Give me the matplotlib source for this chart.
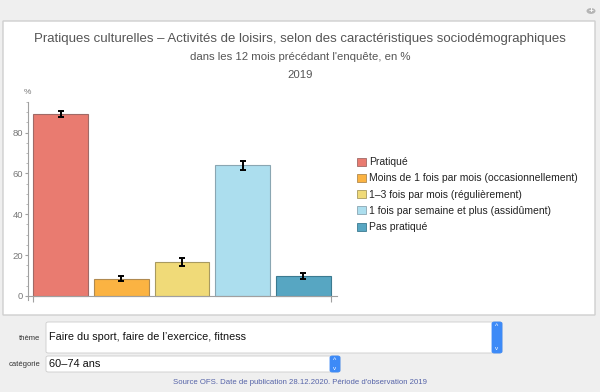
"""
Pratiques culturelles: bar chart with error bars inside a Manipulate-like panel.
"""

import matplotlib.pyplot as plt
import numpy as np
from matplotlib.patches import Patch, FancyBboxPatch, Circle

plt.rcParams['font.family'] = ['Liberation Sans', 'DejaVu Sans']

W, H = 600, 392

categories = [
    'Pratiqué',
    'Moins de 1 fois par mois (occasionnellement)',
    '1–3 fois par mois (régulièrement)',
    '1 fois par semaine et plus (assidûment)',
    'Pas pratiqué',
]
values = [89.2, 8.5, 16.6, 64.0, 9.8]
errors = [1.4, 1.4, 1.8, 2.3, 1.5]
colors = ['#e97b70', '#fbb342', '#f0da78', '#acdeee', '#57a6c2']
edges = ['#a06a66', '#b08a50', '#a89a60', '#8aa6b2', '#3b7a90']

title = 'Pratiques culturelles – Activités de loisirs, selon des caractéristiques sociodémographiques'
subtitle = "dans les 12 mois précédant l'enquête, en %"
year = '2019'
theme = 'Faire du sport, faire de l’exercice, fitness'
category = '60–74 ans'
source = "Source OFS. Date de publication 28.12.2020. Période d'observation 2019"


def fx(px):
    return px / W


def fy(py):
    return 1 - py / H


def box(fig, x0, y0, x1, y1, fc, ec, lw=0.8, r=0.0, z=-2):
    p = FancyBboxPatch((fx(x0), fy(y1)), fx(x1) - fx(x0), fy(y0) - fy(y1),
                       boxstyle=f'round,pad=0,rounding_size={r}',
                       transform=fig.transFigure, facecolor=fc, edgecolor=ec,
                       linewidth=lw, zorder=z)
    fig.patches.append(p)


fig = plt.figure(figsize=(W / 100, H / 100), dpi=100, facecolor='#efefef')

# white panel
box(fig, 3, 21, 595, 315, 'white', '#cfcfcf', lw=1.0)
fig.patches.append(Circle((fx(591), fy(11)), 4.5 / W, transform=fig.transFigure,
                          facecolor='#b5b5b5', edgecolor='none', zorder=-1))
fig.text(fx(591), fy(11.5), '+', color='white', fontsize=6, ha='center', va='center',
         fontweight='bold')

fig.text(fx(300), fy(39), title, ha='center', va='center', fontsize=9.5, color='#555555')
fig.text(fx(300), fy(57), subtitle, ha='center', va='center', fontsize=8.2, color='#555555')
fig.text(fx(300), fy(75), year, ha='center', va='center', fontsize=8.2, color='#555555')

# axes: y from -2 to 95
ax = fig.add_axes([fx(28), fy(300), fx(337) - fx(28), fy(102) - fy(300)])
ax.set_facecolor('none')
x = np.arange(len(values))
ax.bar(x, values, width=0.9, color=colors, edgecolor=edges, linewidth=0.8, zorder=2)
ax.errorbar(x, values, yerr=errors, fmt='none', ecolor='black', elinewidth=1.4,
            capsize=2.3, capthick=1.4, zorder=3)
ax.set_xlim(-0.537, 4.554)
ax.set_ylim(-2, 95)
for s in ['top', 'right']:
    ax.spines[s].set_visible(False)
ax.spines['bottom'].set_position(('data', 0))
ax.spines['left'].set_color('#a0a0a0')
ax.spines['bottom'].set_color('#a0a0a0')
ax.set_xticks([-0.45, 4.45])
ax.set_xticklabels([])
ax.tick_params(axis='x', length=4.3, color='#a0a0a0', direction='out')
ax.set_yticks([0, 20, 40, 60, 80])
ax.set_yticks(np.arange(0, 96, 5), minor=True)
ax.tick_params(axis='y', which='major', length=2.3, color='#a0a0a0', labelsize=6.8,
               labelcolor='#777777', pad=1.2)
ax.tick_params(axis='y', which='minor', length=1.4, color='#b0b0b0')
fig.text(fx(27), fy(93), '%', ha='center', va='center', fontsize=6, color='#777777')

handles = [Patch(facecolor=c, edgecolor=e, linewidth=0.6, label=l)
           for c, e, l in zip(colors, edges, categories)]
fig.legend(handles=handles, loc='upper left', bbox_to_anchor=(fx(353), fy(153)),
           frameon=False, fontsize=7.5, handlelength=0.8, handleheight=0.8,
           handletextpad=0.3, labelspacing=0.6, borderaxespad=0, labelcolor='#222222')

# controls
box(fig, 46, 322, 502, 353, 'white', '#cccccc', lw=0.6, r=0.004)
box(fig, 492, 322, 502, 353, '#3d8af7', '#3d8af7', lw=0.6, r=0.004, z=-1)
fig.text(fx(497), fy(326), '^', color='white', fontsize=5, ha='center', va='center')
fig.text(fx(497), fy(349), 'v', color='white', fontsize=4.5, ha='center', va='center')
fig.text(fx(40), fy(339), 'thème', ha='right', va='center', fontsize=5.5, color='#333333')
fig.text(fx(49), fy(337), theme, ha='left', va='center', fontsize=7.8, color='#111111')

box(fig, 46, 356, 340, 372, 'white', '#cccccc', lw=0.6, r=0.004)
box(fig, 330, 356, 340, 372, '#3d8af7', '#3d8af7', lw=0.6, r=0.004, z=-1)
fig.text(fx(335), fy(360), '^', color='white', fontsize=5, ha='center', va='center')
fig.text(fx(335), fy(369), 'v', color='white', fontsize=4.5, ha='center', va='center')
fig.text(fx(40), fy(364), 'catégorie', ha='right', va='center', fontsize=5.5, color='#333333')
fig.text(fx(49), fy(364), category, ha='left', va='center', fontsize=7.9, color='#111111')

fig.text(fx(300), fy(382), source, ha='center', va='center', fontsize=5.55, color='#5563a8')

plt.savefig('out.png', dpi=100, facecolor=fig.get_facecolor())
plt.close(fig)
